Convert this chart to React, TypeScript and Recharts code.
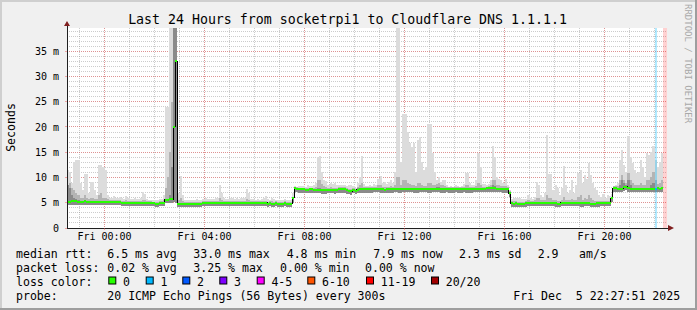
import React from 'react';
import {
  ComposedChart,
  Area,
  XAxis,
  YAxis,
  CartesianGrid,
  ReferenceArea,
  ReferenceDot,
} from 'recharts';

const FONT = "'DejaVu Sans Mono', monospace";

// time axis: hours relative to Fri 00:00, one step = 5 minutes
const startHour = -1.5;
const endHour = 22.5;
const stepHours = 5 / 60;

// median rtt per 5-minute step (ms)
const medianRtt = [
  5.1, 5.2, 5.3, 5.3, 5.3, 5.2, 5.2, 5.2, 5.3, 5.2, 5.2, 5.2,
  5.2, 5.2, 5.2, 5.2, 5.1, 5.2, 5.2, 5.2, 5.1, 5.1, 5.1, 5.1,
  5.1, 5.1, 5.0, 5.0, 5.0, 5.0, 5.0, 5.0, 5.0, 5.0, 5.0, 5.0,
  5.0, 5.0, 5.0, 5.0, 4.9, 4.9, 4.8, 4.8, 4.9, 5.0, 5.0, 5.6,
  5.6, 5.7, 5.7, 20.0, 33.0, 4.8, 4.8, 4.8, 4.8, 4.8, 4.8, 4.8,
  4.8, 4.8, 4.8, 4.8, 4.8, 4.9, 5.0, 5.0, 5.0, 5.0, 5.0, 5.0,
  5.0, 5.0, 5.0, 5.0, 4.9, 5.0, 5.0, 5.0, 5.0, 4.9, 5.0, 5.0,
  5.0, 5.0, 5.0, 4.9, 5.0, 5.0, 4.9, 4.9, 5.0, 4.9, 4.9, 5.0,
  4.8, 4.9, 4.8, 4.8, 4.9, 4.8, 4.8, 4.8, 4.9, 4.8, 4.8, 4.8,
  6.0, 7.9, 7.8, 7.7, 7.7, 7.7, 7.6, 7.6, 7.7, 7.7, 7.6, 7.6,
  7.6, 7.6, 7.5, 7.5, 7.5, 7.6, 7.6, 7.6, 7.5, 7.6, 7.7, 7.7,
  7.7, 7.7, 7.5, 7.4, 7.3, 7.6, 7.4, 7.6, 7.7, 7.7, 7.7, 7.7,
  7.7, 7.7, 7.7, 7.8, 7.8, 7.8, 7.7, 7.7, 7.6, 7.7, 7.7, 7.7,
  7.7, 7.8, 7.8, 7.7, 7.7, 7.8, 7.8, 7.8, 7.8, 7.8, 7.7, 7.7,
  7.7, 7.8, 7.8, 7.8, 7.8, 7.7, 7.7, 7.8, 7.8, 7.8, 7.8, 7.7,
  7.7, 7.7, 7.8, 7.7, 7.7, 7.7, 7.8, 7.7, 7.7, 7.7, 7.8, 7.7,
  7.7, 7.7, 7.7, 7.8, 7.8, 7.8, 7.8, 7.8, 7.8, 7.9, 7.9, 7.9,
  7.9, 7.9, 7.8, 7.8, 7.8, 7.7, 7.7, 7.7, 6.9, 4.9, 4.8, 4.9,
  4.8, 4.8, 4.8, 4.8, 4.9, 5.0, 5.0, 5.0, 5.0, 5.0, 5.0, 5.0,
  5.0, 5.0, 5.0, 5.0, 5.0, 5.0, 4.9, 4.8, 4.8, 5.0, 5.0, 5.0,
  5.0, 5.0, 5.0, 5.0, 5.0, 5.0, 4.9, 4.9, 5.0, 5.0, 5.0, 4.8,
  4.8, 4.8, 4.9, 4.9, 5.0, 5.0, 5.0, 5.0, 5.0, 5.9, 7.9, 7.9,
  7.8, 7.8, 7.8, 8.1, 8.2, 7.9, 7.8, 7.8, 7.8, 7.8, 7.8, 7.8,
  7.8, 7.8, 7.8, 7.8, 7.8, 7.8, 7.8, 7.9, 7.8, 7.9,
];

// highest ping of the step (light smoke top)
const smokeTop = [
  11.5, 11.0, 9.0, 13.0, 13.4, 13.4, 9.0, 7.5, 10.6, 10.6, 7.0, 9.2,
  9.2, 7.5, 6.5, 12.5, 12.5, 12.0, 11.5, 6.5, 6.0, 6.0, 6.3, 5.9,
  5.9, 6.2, 6.0, 5.8, 6.3, 6.0, 5.8, 5.8, 6.0, 5.7, 5.8, 5.9,
  7.2, 6.8, 5.8, 5.6, 5.6, 5.5, 5.5, 5.6, 5.7, 5.8, 6.5, 24.0,
  24.0, 39.6, 39.6, 39.6, 39.6, 7.0, 10.2, 6.5, 5.5, 5.6, 5.5, 5.6,
  5.6, 5.5, 5.7, 5.5, 5.6, 5.8, 5.9, 5.7, 5.8, 5.8, 5.7, 5.9,
  6.0, 8.5, 7.0, 5.9, 5.8, 5.8, 5.9, 6.0, 5.8, 5.9, 5.8, 5.9,
  5.9, 6.0, 7.8, 7.0, 5.8, 5.7, 5.6, 5.8, 5.6, 5.7, 5.9, 6.3,
  5.8, 5.6, 6.0, 5.7, 5.5, 5.6, 5.6, 5.5, 5.7, 5.6, 5.5, 5.6,
  7.0, 8.3, 8.2, 8.3, 8.4, 8.3, 8.2, 8.5, 8.3, 8.4, 8.6, 9.0,
  14.0, 14.2, 11.0, 9.5, 9.3, 8.6, 9.0, 8.7, 8.9, 8.6, 8.5, 8.6,
  8.5, 8.6, 8.4, 8.5, 8.5, 8.3, 8.0, 9.0, 10.0, 14.2, 8.8, 8.4,
  8.3, 8.5, 8.4, 8.8, 8.5, 9.7, 10.2, 9.0, 9.2, 8.8, 9.2, 9.6,
  9.0, 11.0, 39.6, 39.6, 13.0, 22.5, 22.5, 19.0, 16.8, 16.0, 16.8, 11.0,
  17.5, 18.0, 13.0, 11.5, 12.0, 20.5, 20.5, 14.8, 11.0, 9.5, 10.0, 9.2,
  9.5, 9.5, 8.5, 8.2, 8.3, 8.2, 8.5, 8.3, 8.2, 8.4, 8.8, 10.9,
  10.9, 9.0, 8.5, 8.6, 9.5, 14.8, 12.0, 8.8, 8.8, 8.5, 8.8, 9.5,
  16.2, 14.0, 10.0, 9.8, 9.5, 9.0, 9.8, 8.6, 7.6, 5.8, 6.0, 5.9,
  5.9, 6.0, 5.8, 5.7, 5.8, 6.5, 5.9, 5.8, 6.2, 9.2, 8.5, 6.5,
  6.2, 7.0, 18.5, 10.6, 10.6, 7.5, 8.5, 8.0, 6.5, 8.0, 12.3, 8.5,
  7.0, 7.5, 9.5, 7.0, 8.5, 10.9, 11.5, 9.0, 10.5, 9.8, 12.9, 10.5,
  9.0, 8.0, 7.5, 6.5, 6.2, 6.8, 6.0, 6.5, 6.3, 6.8, 8.3, 8.6,
  9.0, 13.5, 15.5, 12.5, 11.0, 18.2, 14.0, 12.9, 11.5, 10.9, 11.0, 13.5,
  12.0, 10.0, 14.8, 14.5, 15.0, 16.3, 13.5, 12.0, 13.0, 14.8,
];

// upper edge of the medium-grey smoke
const smokeMid = [
  8.5, 9.0, 8.0, 7.5, 7.0, 6.5, 6.0, 6.0, 6.5, 6.0, 5.8, 6.0,
  6.0, 5.8, 5.7, 6.5, 7.0, 6.0, 6.0, 5.7, 5.6, 5.6, 5.6, 5.5,
  5.5, 5.6, 5.4, 5.4, 5.5, 5.4, 5.4, 5.4, 5.4, 5.4, 5.4, 5.4,
  5.6, 5.5, 5.4, 5.3, 5.3, 5.2, 5.2, 5.2, 5.3, 5.4, 5.6, 8.0,
  10.0, 15.0, 25.0, 39.6, 39.6, 5.6, 6.0, 5.3, 5.2, 5.2, 5.2, 5.2,
  5.2, 5.2, 5.2, 5.2, 5.2, 5.4, 5.4, 5.4, 5.4, 5.4, 5.4, 5.4,
  5.4, 6.0, 5.6, 5.4, 5.3, 5.4, 5.4, 5.4, 5.4, 5.3, 5.4, 5.4,
  5.4, 5.4, 5.8, 5.6, 5.4, 5.4, 5.3, 5.3, 5.4, 5.3, 5.3, 5.4,
  5.2, 5.3, 5.3, 5.2, 5.3, 5.2, 5.2, 5.2, 5.3, 5.2, 5.2, 5.2,
  6.2, 8.1, 8.1, 8.0, 8.0, 8.0, 7.9, 8.0, 8.0, 8.0, 8.0, 8.2,
  9.5, 9.5, 8.8, 8.4, 8.2, 8.0, 8.2, 8.0, 8.0, 8.0, 8.1, 8.1,
  8.1, 8.1, 7.9, 7.8, 7.8, 8.0, 7.8, 8.2, 8.5, 9.0, 8.2, 8.1,
  8.1, 8.1, 8.1, 8.2, 8.2, 8.5, 8.6, 8.2, 8.1, 8.1, 8.2, 8.3,
  8.2, 8.5, 10.0, 10.0, 8.6, 9.5, 9.5, 9.0, 8.8, 8.6, 8.6, 8.3,
  9.0, 9.0, 8.6, 8.4, 8.4, 9.0, 9.0, 8.6, 8.5, 8.8, 9.0, 8.5,
  8.5, 8.4, 8.2, 8.1, 8.1, 8.1, 8.2, 8.1, 8.1, 8.1, 8.2, 8.5,
  8.5, 8.2, 8.1, 8.2, 8.3, 9.0, 8.6, 8.2, 8.2, 8.2, 8.3, 8.5,
  9.5, 9.5, 8.6, 8.5, 8.4, 8.3, 8.4, 8.2, 7.3, 5.3, 5.3, 5.3,
  5.2, 5.2, 5.2, 5.2, 5.3, 5.5, 5.4, 5.4, 5.5, 6.0, 6.0, 5.5,
  5.5, 5.6, 6.5, 6.0, 6.0, 5.5, 5.6, 5.4, 5.3, 5.5, 6.2, 5.6,
  5.5, 5.5, 5.8, 5.5, 5.6, 6.2, 6.5, 5.6, 6.0, 5.8, 6.5, 6.0,
  5.6, 5.4, 5.4, 5.3, 5.4, 5.4, 5.4, 5.4, 5.4, 6.2, 8.3, 8.4,
  8.4, 9.5, 10.5, 9.5, 9.0, 10.9, 9.5, 9.0, 8.6, 8.6, 8.6, 9.0,
  8.6, 8.5, 9.5, 9.5, 10.0, 11.0, 9.5, 8.8, 9.0, 9.5,
];

// upper edge of the dark smoke core
const smokeCore = [
  8.5, 8.0, 6.5, 6.0, 5.8, 5.5, 5.2, 5.2, 5.3, 5.2, 5.2, 5.2,
  5.2, 5.2, 5.2, 5.2, 5.1, 5.2, 5.2, 5.2, 5.1, 5.1, 5.1, 5.1,
  5.1, 5.1, 5.0, 5.0, 5.0, 5.0, 5.0, 5.0, 5.0, 5.0, 5.0, 5.0,
  5.0, 5.0, 5.0, 5.0, 4.9, 4.9, 4.8, 4.8, 4.9, 5.0, 5.0, 5.6,
  5.6, 6.5, 12.0, 39.6, 39.6, 4.8, 4.8, 4.8, 4.8, 4.8, 4.8, 4.8,
  4.8, 4.8, 4.8, 4.8, 4.8, 4.9, 5.0, 5.0, 5.0, 5.0, 5.0, 5.0,
  5.0, 5.0, 5.0, 5.0, 4.9, 5.0, 5.0, 5.0, 5.0, 4.9, 5.0, 5.0,
  5.0, 5.0, 5.0, 4.9, 5.0, 5.0, 4.9, 4.9, 5.0, 4.9, 4.9, 5.0,
  4.8, 4.9, 4.8, 4.8, 4.9, 4.8, 4.8, 4.8, 4.9, 4.8, 4.8, 4.8,
  6.0, 7.9, 7.8, 7.7, 7.7, 7.7, 7.6, 7.6, 7.7, 7.7, 7.6, 7.6,
  8.0, 8.0, 7.5, 7.5, 7.5, 7.6, 7.6, 7.6, 7.5, 7.6, 7.7, 7.7,
  7.7, 7.7, 7.5, 7.4, 7.3, 7.6, 7.4, 8.0, 8.0, 7.7, 7.7, 7.7,
  7.7, 7.7, 7.7, 7.8, 7.8, 7.8, 7.7, 7.7, 7.6, 7.7, 7.7, 7.7,
  7.7, 7.8, 7.8, 7.7, 7.7, 7.8, 7.8, 7.8, 7.8, 7.8, 7.7, 7.7,
  7.7, 7.8, 7.8, 7.8, 7.8, 7.7, 7.7, 7.8, 7.8, 8.2, 8.2, 7.7,
  7.7, 7.7, 7.8, 7.7, 7.7, 7.7, 7.8, 7.7, 7.7, 7.7, 7.8, 7.7,
  7.7, 7.7, 7.7, 7.8, 7.8, 7.8, 7.8, 7.8, 7.8, 7.9, 7.9, 7.9,
  8.6, 8.4, 7.8, 7.8, 7.8, 7.7, 7.7, 7.7, 6.9, 4.9, 4.8, 4.9,
  4.8, 4.8, 4.8, 4.8, 4.9, 5.0, 5.0, 5.0, 5.0, 5.0, 5.0, 5.0,
  5.0, 5.0, 5.0, 5.0, 5.0, 5.0, 4.9, 4.8, 4.8, 5.0, 5.0, 5.0,
  5.0, 5.0, 5.0, 5.0, 5.0, 5.0, 4.9, 4.9, 5.0, 5.0, 5.0, 4.8,
  4.8, 4.8, 4.9, 4.9, 5.0, 5.0, 5.0, 5.0, 5.0, 5.9, 7.9, 7.9,
  7.8, 8.5, 9.5, 9.0, 8.5, 9.5, 8.5, 7.8, 7.8, 7.8, 7.8, 7.8,
  7.8, 7.8, 7.8, 7.8, 8.5, 9.0, 7.8, 7.9, 7.8, 7.9,
];

// lowest ping of the step (smoke bottom)
const smokeLow = [
  4.5, 4.6, 4.6, 4.6, 4.6, 4.6, 4.6, 4.6, 4.6, 4.6, 4.6, 4.6,
  4.6, 4.6, 4.6, 4.6, 4.5, 4.6, 4.6, 4.6, 4.5, 4.5, 4.5, 4.5,
  4.5, 4.5, 4.4, 4.4, 4.4, 4.4, 4.4, 4.4, 4.4, 4.4, 4.4, 4.4,
  4.4, 4.4, 4.4, 4.4, 4.3, 4.3, 4.2, 4.2, 4.3, 4.4, 4.4, 4.9,
  4.9, 5.0, 5.0, 5.2, 5.0, 4.2, 4.2, 4.2, 4.2, 4.2, 4.2, 4.2,
  4.2, 4.2, 4.2, 4.2, 4.2, 4.3, 4.4, 4.4, 4.4, 4.4, 4.4, 4.4,
  4.4, 4.4, 4.4, 4.4, 4.3, 4.4, 4.4, 4.4, 4.4, 4.3, 4.4, 4.4,
  4.4, 4.4, 4.4, 4.3, 4.4, 4.4, 4.3, 4.3, 4.4, 4.3, 4.3, 4.4,
  4.2, 4.3, 4.2, 4.2, 4.3, 4.2, 4.2, 4.2, 4.3, 4.2, 4.2, 4.2,
  4.9, 7.1, 7.1, 7.0, 7.0, 7.0, 6.9, 6.9, 7.0, 7.0, 6.9, 6.9,
  6.9, 6.9, 6.8, 6.8, 6.8, 6.9, 6.9, 6.9, 6.8, 6.9, 7.0, 7.0,
  7.0, 7.0, 6.8, 6.7, 6.6, 6.9, 6.7, 6.9, 7.0, 7.0, 7.0, 7.0,
  7.0, 7.0, 7.0, 7.1, 7.1, 7.1, 7.0, 7.0, 6.9, 7.0, 7.0, 7.0,
  7.0, 7.1, 7.1, 7.0, 7.0, 7.1, 7.1, 7.1, 7.1, 7.1, 7.0, 7.0,
  7.0, 7.1, 7.1, 7.1, 7.1, 7.0, 7.0, 7.1, 7.1, 7.1, 7.1, 7.0,
  7.0, 7.0, 7.1, 7.0, 7.0, 7.0, 7.1, 7.0, 7.0, 7.0, 7.1, 7.0,
  7.0, 7.0, 7.0, 7.1, 7.1, 7.1, 7.1, 7.1, 7.1, 7.2, 7.2, 7.2,
  7.2, 7.2, 7.1, 7.1, 7.1, 7.0, 7.0, 7.0, 6.2, 4.2, 4.1, 4.2,
  4.1, 4.1, 4.1, 4.1, 4.2, 4.3, 4.3, 4.3, 4.3, 4.3, 4.3, 4.3,
  4.3, 4.3, 4.3, 4.3, 4.3, 4.3, 4.2, 4.1, 4.1, 4.3, 4.3, 4.3,
  4.3, 4.3, 4.3, 4.3, 4.3, 4.3, 4.2, 4.2, 4.3, 4.3, 4.3, 4.1,
  4.1, 4.1, 4.2, 4.2, 4.3, 4.3, 4.3, 4.3, 4.3, 5.2, 7.2, 7.2,
  7.1, 7.1, 7.1, 7.4, 7.5, 7.2, 7.1, 7.1, 7.1, 7.1, 7.1, 7.1,
  7.1, 7.1, 7.1, 7.1, 7.1, 7.1, 7.1, 7.2, 7.1, 7.2,
];

// steps with packet loss (index into the arrays above, pings lost)
const lossEvents = [{ index: 282, lost: 1 }];

const xTicks = [0, 4, 8, 12, 16, 20];
const xTickLabels = ['Fri 00:00', 'Fri 04:00', 'Fri 08:00', 'Fri 12:00', 'Fri 16:00', 'Fri 20:00'];
const yTicks = [0, 5, 10, 15, 20, 25, 30, 35];
const yTickLabels = ['0', '5 m', '10 m', '15 m', '20 m', '25 m', '30 m', '35 m'];
const yMax = 39.6;

const titleText = 'Last 24 Hours from socketrpi1 to Cloudflare DNS 1.1.1.1';
const yLabel = 'Seconds';
const watermark = 'RRDTOOL / TOBI OETIKER';
const rttLabel = 'median rtt:';
const rttStats = ['6.5 ms avg', '33.0 ms max', '4.8 ms min', '7.9 ms now', '2.3 ms sd', '2.9', 'am/s'];
const lossLabel = 'packet loss:';
const lossStats = ['0.02 % avg', '3.25 % max', '0.00 % min', '0.00 % now'];
const lossColorLabel = 'loss color:';
const lossBins = ['0', '1', '2', '3', '4-5', '6-10', '11-19', '20/20'];
const lossBinColors = ['#26ff00', '#00b8ff', '#0059ff', '#7e00ff', '#ff00ff', '#ff5500', '#ff0000', '#a00000'];
const probeLabel = 'probe:';
const probeText = '20 ICMP Echo Pings (56 Bytes) every 300s';
const stampText = 'Fri Dec  5 22:27:51 2025';

// ---- layout (pixels) ----
const W = 697;
const H = 310;
const legendX0 = 16;
const rttX = [107.3, 193.3, 286.7, 373.3, 459, 537.7, 579];
const lossX = [107.3, 193.3, 280, 365];
const binBoxX = [108.3, 145.7, 182.3, 219.3, 256.7, 307.3, 366, 431];
const rowY = [257.7, 271.9, 286.1, 300.3];
const stampX = 513.3;

const rows = medianRtt.map((m, i) => ({
  t: startHour + i * stepHours,
  median: m,
  top: smokeTop[i],
  mid: smokeMid[i],
  core: smokeCore[i],
  low: smokeLow[i],
}));
// close the last step at its end time
rows.push({ ...rows[rows.length - 1], t: startHour + medianRtt.length * stepHours });

const dataEnd = startHour + medianRtt.length * stepHours;

const kTop = (d: any) => [d.low, d.top];
const kMid = (d: any) => [d.low, d.mid];
const kCore = (d: any) => [d.low, d.core];
const kMed = (d: any) => [d.median - 0.2, d.median + 0.2];

const minorHours = Array.from({ length: 24 }, (_, i) => i - 1);
const majorHours = xTicks;
const minorMs = Array.from({ length: 39 }, (_, i) => i + 1);
const majorMs = yTicks.filter((v) => v > 0);

const GRID = 'rgba(143,143,143,0.45)';
const MGRID = 'rgba(240,90,90,0.5)';
const AXIS = '#1f1f1f';
const ARROW = '#801f1f';

const XArrow = (p: any) => (
  <g>
    <line x1={p.cx} y1={p.cy} x2={p.cx + 2} y2={p.cy} stroke={AXIS} />
    <polygon
      points={`${p.cx + 1},${p.cy - 3} ${p.cx + 7},${p.cy} ${p.cx + 1},${p.cy + 3}`}
      fill={ARROW}
    />
  </g>
);
const YArrow = (p: any) => (
  <g>
    <line x1={p.cx} y1={p.cy} x2={p.cx} y2={p.cy - 3} stroke={AXIS} />
    <polygon
      points={`${p.cx - 3},${p.cy - 2} ${p.cx},${p.cy - 7} ${p.cx + 3},${p.cy - 2}`}
      fill={ARROW}
    />
  </g>
);

const txt = { fontFamily: FONT, fill: '#000', whiteSpace: 'pre' as const };

export default function App() {
  return (
    <div style={{ position: 'fixed', left: 0, top: 0, width: W, height: H, background: '#f0f0f0', overflow: 'hidden' }}>
      <style>{`.recharts-surface line, .recharts-surface path { shape-rendering: crispEdges; }`}</style>
      <div style={{ position: 'absolute', left: 0, top: 0 }}>
        <ComposedChart
          width={W}
          height={H}
          data={rows}
          margin={{ top: 28, right: 30, bottom: 62, left: 7 }}
        >
          <CartesianGrid horizontal={false} vertical={false} fill="#ffffff" />
          <CartesianGrid
            stroke={GRID}
            strokeDasharray="1 1"
            horizontalValues={minorMs}
            verticalValues={minorHours}
          />
          <CartesianGrid
            stroke={MGRID}
            strokeDasharray="1 1"
            horizontalValues={majorMs}
            verticalValues={majorHours}
          />
          <XAxis
            type="number"
            dataKey="t"
            domain={[startHour, endHour]}
            allowDataOverflow
            ticks={xTicks}
            interval={0}
            tickFormatter={(v: number) => xTickLabels[xTicks.indexOf(v)]}
            axisLine={{ stroke: AXIS }}
            tickLine={{ stroke: MGRID }}
            tickSize={2}
            tickMargin={3}
            height={20}
            tick={{ fontSize: 10, fill: '#000', fontFamily: FONT }}
          />
          <YAxis
            type="number"
            domain={[0, yMax]}
            allowDataOverflow
            ticks={yTicks}
            interval={0}
            tickFormatter={(v: number) => yTickLabels[yTicks.indexOf(v)]}
            axisLine={{ stroke: AXIS }}
            tickLine={{ stroke: MGRID }}
            tickSize={2}
            tickMargin={6}
            width={60}
            tick={{ fontSize: 10, fill: '#000', fontFamily: FONT }}
          />
          <Area name="smoke-top" type="stepAfter" dataKey={kTop} fill="#dcdcdc" fillOpacity={1} stroke="none" dot={false} activeDot={false} isAnimationActive={false} />
          <Area name="smoke-mid" type="stepAfter" dataKey={kMid} fill="#b4b4b4" fillOpacity={1} stroke="none" dot={false} activeDot={false} isAnimationActive={false} />
          <Area name="smoke-core" type="stepAfter" dataKey={kCore} fill="#8a8a8a" fillOpacity={1} stroke="none" dot={false} activeDot={false} isAnimationActive={false} />
          <Area name="median-line" type="stepAfter" dataKey="median" fill="none" fillOpacity={0} stroke="#000" strokeWidth={1} dot={false} activeDot={false} isAnimationActive={false} />
          <Area name="median-loss0" type="stepAfter" dataKey={kMed} fill={lossBinColors[0]} fillOpacity={1} stroke="none" dot={false} activeDot={false} isAnimationActive={false} />
          {lossEvents.map((ev) => (
            <ReferenceArea
              key={`band-${ev.index}`}
              x1={startHour + ev.index * stepHours}
              x2={startHour + (ev.index + 1) * stepHours}
              fill={lossBinColors[ev.lost]}
              fillOpacity={0.3}
              stroke="none"
              ifOverflow="visible"
            />
          ))}
          {lossEvents.map((ev) => (
            <ReferenceArea
              key={`med-${ev.index}`}
              x1={startHour + ev.index * stepHours}
              x2={startHour + (ev.index + 1) * stepHours}
              y1={medianRtt[ev.index] - 0.2}
              y2={medianRtt[ev.index] + 0.2}
              fill={lossBinColors[ev.lost]}
              fillOpacity={1}
              stroke="none"
              ifOverflow="visible"
            />
          ))}
          <ReferenceArea x1={dataEnd} x2={endHour} fill="#ff0000" fillOpacity={0.18} stroke="none" ifOverflow="visible" />
          <ReferenceDot x={endHour} y={0} r={0} shape={XArrow} ifOverflow="visible" />
          <ReferenceDot x={startHour} y={yMax} r={0} shape={YArrow} ifOverflow="visible" />
        </ComposedChart>
      </div>
      <svg width={W} height={H} style={{ position: 'absolute', left: 0, top: 0, pointerEvents: 'none' }}>
        <rect x={0} y={0} width={W} height={2} fill="#cfcfcf" />
        <rect x={0} y={0} width={2} height={H} fill="#cfcfcf" />
        <rect x={0} y={H - 2} width={W} height={2} fill="#9e9e9e" />
        <rect x={W - 2} y={0} width={2} height={H} fill="#9e9e9e" />
        <text x={347.5} y={24} textAnchor="middle" fontSize={13.25} style={txt}>{titleText}</text>
        <text x={14.5} y={127.5} textAnchor="middle" fontSize={11.55} transform="rotate(-90 14.5 127.5)" style={txt}>{yLabel}</text>
        <text x={685} y={4} textAnchor="start" fontSize={9} transform="rotate(90 685 4)" style={{ ...txt, fill: '#a8a8a8' }}>{watermark}</text>
        <g fontSize={11.55}>
          <text x={legendX0} y={rowY[0]} style={txt}>{rttLabel}</text>
          {rttStats.map((s, i) => (
            <text key={`r${i}`} x={rttX[i]} y={rowY[0]} style={txt}>{s}</text>
          ))}
          <text x={legendX0} y={rowY[1]} style={txt}>{lossLabel}</text>
          {lossStats.map((s, i) => (
            <text key={`l${i}`} x={lossX[i]} y={rowY[1]} style={txt}>{s}</text>
          ))}
          <text x={legendX0} y={rowY[2]} style={txt}>{lossColorLabel}</text>
          {lossBins.map((s, i) => (
            <g key={`b${i}`}>
              <rect x={binBoxX[i] + 0.5} y={rowY[2] - 9.1} width={7} height={7} fill={lossBinColors[i]} stroke="#000" strokeWidth={1} />
              <text x={binBoxX[i] + 14.7} y={rowY[2]} style={txt}>{s}</text>
            </g>
          ))}
          <text x={legendX0} y={rowY[3]} style={txt}>{probeLabel}</text>
          <text x={rttX[0]} y={rowY[3]} style={txt}>{probeText}</text>
          <text x={stampX} y={rowY[3]} style={txt}>{stampText}</text>
        </g>
      </svg>
    </div>
  );
}
